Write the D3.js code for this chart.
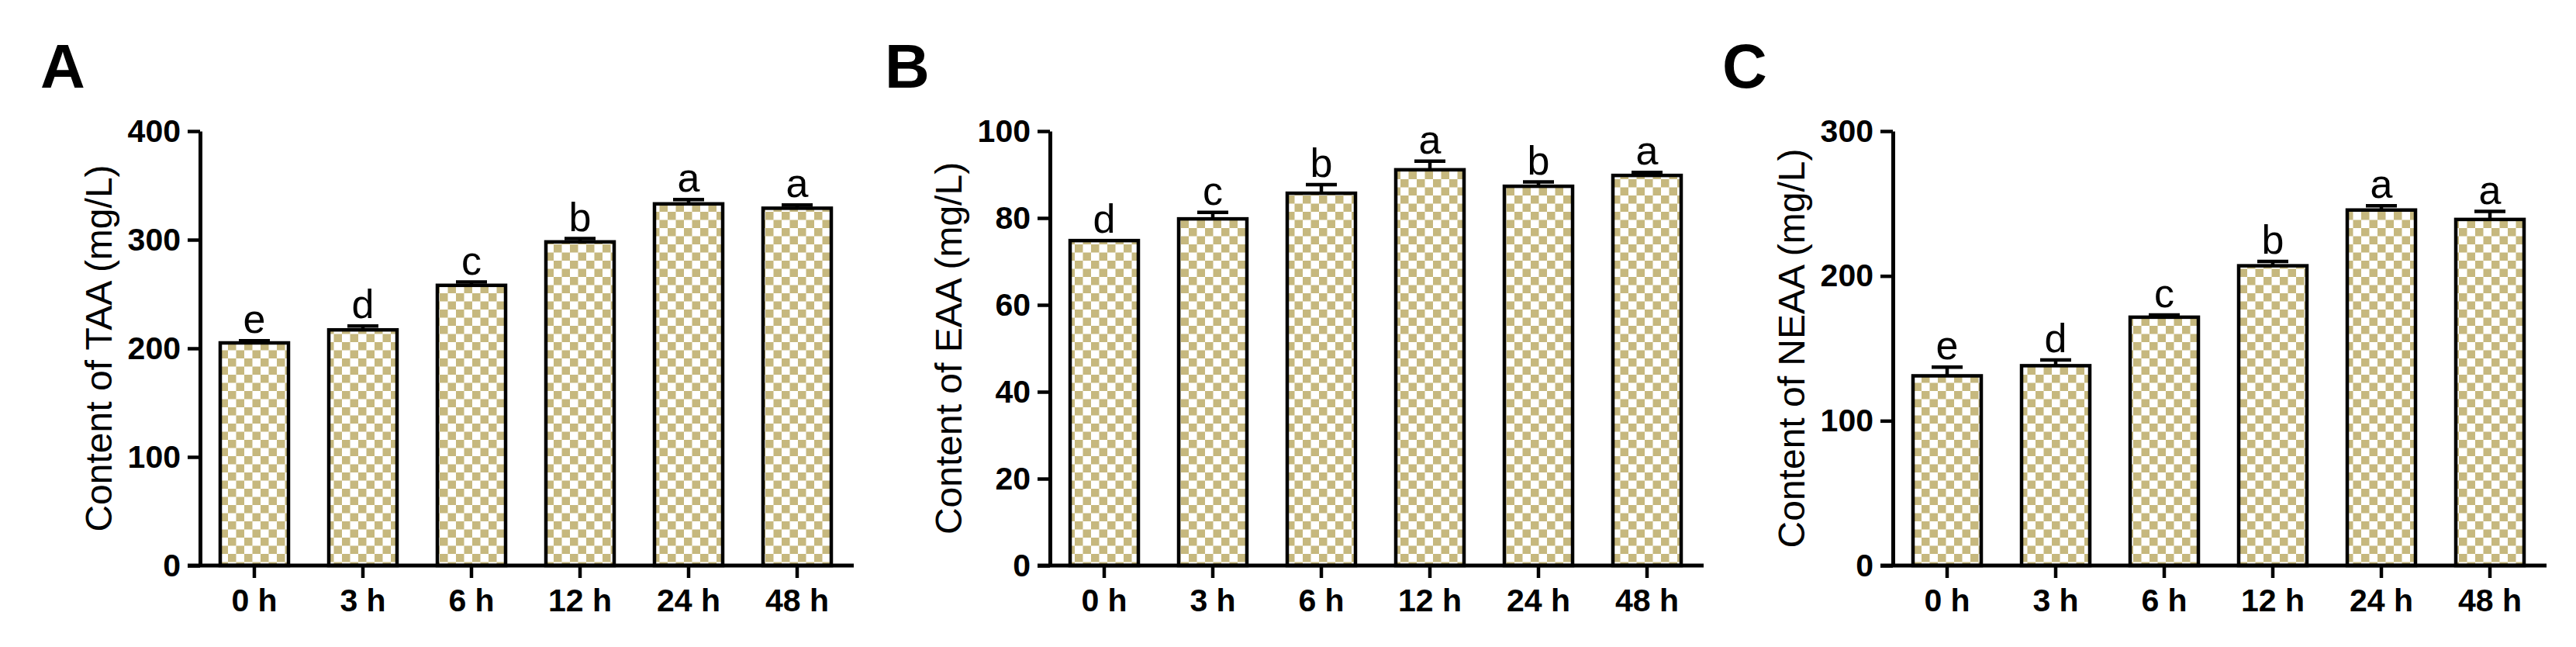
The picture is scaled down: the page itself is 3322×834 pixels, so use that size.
<!DOCTYPE html>
<html><head><meta charset="utf-8">
<script src="https://cdn.jsdelivr.net/npm/d3@7"></script>
<style>body{margin:0;background:#fff}svg{display:block}</style>
</head><body>
<svg id="chart" width="3322" height="834"></svg>
<script>
const categories = ["0 h", "3 h", "6 h", "12 h", "24 h", "48 h"];

const taaValues = [205, 217, 258, 298, 333, 329];
const taaErrors = [2, 3.5, 3, 3, 4, 3];
const taaLetters = ["e", "d", "c", "b", "a", "a"];
const taaTicks = [0, 100, 200, 300, 400];

const eaaValues = [74.8, 79.8, 85.7, 91.1, 87.3, 89.8];
const eaaErrors = [0, 1.5, 2, 2, 1, 0.7];
const eaaLetters = ["d", "c", "b", "a", "b", "a"];
const eaaTicks = [0, 20, 40, 60, 80, 100];

const neaaValues = [131, 138, 171.5, 207, 245.5, 239];
const neaaErrors = [6, 4, 1.5, 3, 3, 5.5];
const neaaLetters = ["e", "d", "c", "b", "a", "a"];
const neaaTicks = [0, 100, 200, 300];

const panelLabels = ["A", "B", "C"];
const yTitles = ["Content of TAA (mg/L)", "Content of EAA (mg/L)", "Content of NEAA (mg/L)"];

const panels = [
  {label: panelLabels[0], title: yTitles[0], values: taaValues, errors: taaErrors, letters: taaLetters, ticks: taaTicks},
  {label: panelLabels[1], title: yTitles[1], values: eaaValues, errors: eaaErrors, letters: eaaLetters, ticks: eaaTicks},
  {label: panelLabels[2], title: yTitles[2], values: neaaValues, errors: neaaErrors, letters: neaaLetters, ticks: neaaTicks}
];

// layout
const axisXs = [258, 1354, 2441];
const letterXs = [52, 1141, 2221];
const yTop = 169, yBottom = 729;
const step = 140, barW = 88;
const FONT = "'Liberation Sans', Arial, Helvetica, sans-serif";
const TAN = "#c6b87e";

const svg = d3.select("#chart");
const defs = svg.append("defs");
const pat = defs.append("pattern").attr("id", "checker")
  .attr("patternUnits", "userSpaceOnUse").attr("width", 21).attr("height", 21);
pat.append("rect").attr("width", 21).attr("height", 21).attr("fill", "#fff");
pat.append("rect").attr("width", 10.5).attr("height", 10.5).attr("fill", TAN);
pat.append("rect").attr("x", 10.5).attr("y", 10.5).attr("width", 10.5).attr("height", 10.5).attr("fill", TAN);

panels.forEach((p, i) => {
  const x0 = axisXs[i];
  const g = svg.append("g");
  const x = d3.scaleBand().domain(categories).range([x0, x0 + step * categories.length]).paddingInner(0).paddingOuter(0);
  const y = d3.scaleLinear().domain([0, p.ticks[p.ticks.length - 1]]).range([yBottom, yTop]);
  const cx = c => x(c) + x.bandwidth() / 2;

  // bars
  g.selectAll("rect.bar").data(categories).join("rect").attr("class", "bar")
    .attr("x", c => cx(c) - barW / 2)
    .attr("width", barW)
    .attr("y", (c, j) => y(p.values[j]))
    .attr("height", (c, j) => y(0) - y(p.values[j]))
    .attr("fill", "url(#checker)")
    .attr("stroke", "#000").attr("stroke-width", 4.5);

  // error bars (upper only)
  categories.forEach((c, j) => {
    const e = p.errors[j];
    if (e > 0) {
      g.append("line").attr("x1", cx(c)).attr("x2", cx(c))
        .attr("y1", y(p.values[j])).attr("y2", y(p.values[j] + e))
        .attr("stroke", "#000").attr("stroke-width", 4.5);
      g.append("line").attr("x1", cx(c) - 20).attr("x2", cx(c) + 20)
        .attr("y1", y(p.values[j] + e)).attr("y2", y(p.values[j] + e))
        .attr("stroke", "#000").attr("stroke-width", 4.5);
    }
    g.append("text").attr("x", cx(c)).attr("y", y(p.values[j] + e) - 10)
      .attr("text-anchor", "middle").attr("font-family", FONT).attr("font-size", 52)
      .attr("fill", "#000").text(p.letters[j]);
  });

  // y axis
  const ya = g.append("g").attr("transform", `translate(${x0},0)`)
    .call(d3.axisLeft(y).tickValues(p.ticks).tickSize(16).tickSizeOuter(0).tickPadding(9));
  ya.select(".domain").attr("stroke", "#000").attr("stroke-width", 5);
  ya.selectAll(".tick line").attr("stroke", "#000").attr("stroke-width", 4.5);
  ya.selectAll(".tick text").attr("font-family", FONT).attr("font-size", 41)
    .attr("font-weight", "bold").attr("fill", "#000");

  // x axis
  const xa = g.append("g").attr("transform", `translate(0,${yBottom})`)
    .call(d3.axisBottom(x).tickSize(16).tickSizeOuter(0).tickPadding(14));
  xa.select(".domain").remove();
  xa.append("line").attr("x1", x0 - 16).attr("x2", x0 + step * categories.length + 3)
    .attr("y1", 0).attr("y2", 0).attr("stroke", "#000").attr("stroke-width", 5);
  xa.selectAll(".tick line").attr("stroke", "#000").attr("stroke-width", 4.5);
  xa.selectAll(".tick text").attr("font-family", FONT).attr("font-size", 41)
    .attr("font-weight", "bold").attr("fill", "#000");

  // y title
  g.append("text").attr("transform", `translate(${x0 - 114},${(yTop + yBottom) / 2}) rotate(-90)`)
    .attr("text-anchor", "middle").attr("font-family", FONT).attr("font-size", 48)
    .attr("fill", "#000").text(p.title);

  // panel label
  g.append("text").attr("x", letterXs[i]).attr("y", 113)
    .attr("font-family", FONT).attr("font-size", 80).attr("font-weight", "bold")
    .attr("fill", "#000").text(p.label);
});
</script>
</body></html>
